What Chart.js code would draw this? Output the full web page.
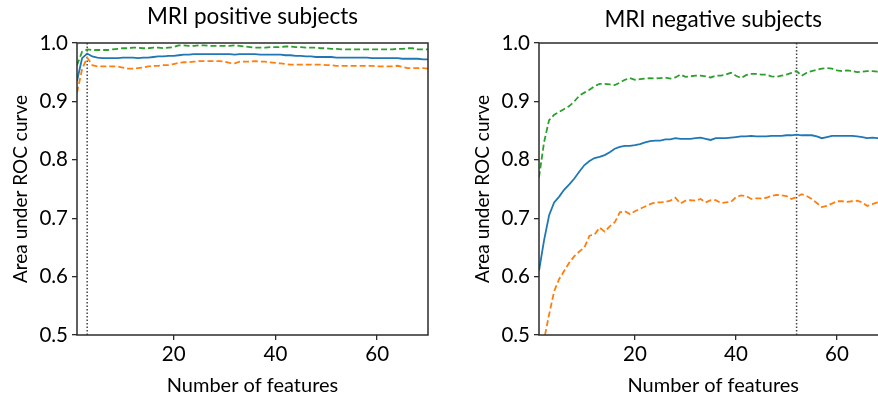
<!DOCTYPE html>
<html><head><meta charset="utf-8">
<script src="https://cdn.jsdelivr.net/npm/chart.js@4/dist/chart.umd.min.js"></script>
<style>
html,body{margin:0;padding:0;background:#fff;width:878px;height:398px;overflow:hidden;}
#wrap{position:relative;width:878px;height:398px;overflow:hidden;}
canvas{position:absolute;top:0;}
#c1{left:0;}
#c2{left:462px;}
</style></head>
<body><div id="wrap"><canvas id="c1" width="440" height="398"></canvas><canvas id="c2" width="438" height="398"></canvas></div>
<script>
const features = [1,2,3,4,5,6,7,8,9,10,11,12,13,14,15,16,17,18,19,20,21,22,23,24,25,26,27,28,29,30,31,32,33,34,35,36,37,38,39,40,41,42,43,44,45,46,47,48,49,50,51,52,53,54,55,56,57,58,59,60,61,62,63,64,65,66,67,68,69,70];
const xTicks = [20, 40, 60];
const yTicks = [0.5, 0.6, 0.7, 0.8, 0.9, 1.0];

const posMean = [0.935,0.974,0.982,0.977,0.975,0.974,0.974,0.974,0.974,0.975,0.975,0.975,0.974,0.975,0.975,0.976,0.977,0.977,0.978,0.978,0.979,0.980,0.980,0.981,0.981,0.981,0.981,0.981,0.981,0.981,0.981,0.980,0.981,0.981,0.981,0.981,0.980,0.980,0.980,0.980,0.980,0.979,0.979,0.978,0.978,0.977,0.977,0.976,0.976,0.976,0.976,0.975,0.975,0.975,0.975,0.975,0.975,0.975,0.974,0.974,0.974,0.974,0.974,0.974,0.973,0.973,0.973,0.973,0.972,0.972];
const posUpper = [0.962,0.985,0.989,0.988,0.988,0.988,0.988,0.989,0.990,0.991,0.991,0.992,0.992,0.991,0.991,0.992,0.992,0.991,0.992,0.993,0.996,0.996,0.995,0.995,0.996,0.996,0.995,0.995,0.995,0.995,0.995,0.996,0.995,0.994,0.993,0.992,0.992,0.992,0.993,0.993,0.993,0.994,0.994,0.993,0.993,0.992,0.992,0.992,0.991,0.991,0.990,0.990,0.989,0.989,0.989,0.989,0.989,0.989,0.989,0.989,0.989,0.989,0.989,0.990,0.990,0.991,0.991,0.989,0.989,0.989];
const posLower = [0.915,0.955,0.975,0.962,0.960,0.960,0.960,0.960,0.960,0.958,0.956,0.956,0.957,0.958,0.960,0.961,0.961,0.962,0.962,0.964,0.966,0.967,0.967,0.968,0.969,0.969,0.969,0.969,0.969,0.968,0.966,0.965,0.968,0.968,0.968,0.969,0.968,0.968,0.967,0.966,0.965,0.964,0.963,0.963,0.963,0.963,0.963,0.963,0.963,0.962,0.962,0.961,0.961,0.961,0.961,0.961,0.961,0.961,0.961,0.960,0.960,0.960,0.960,0.961,0.959,0.957,0.957,0.957,0.957,0.956];
const posBest = 3;

const negMean = [0.610,0.662,0.705,0.727,0.737,0.749,0.758,0.768,0.780,0.791,0.798,0.803,0.805,0.808,0.813,0.819,0.822,0.824,0.824,0.825,0.827,0.830,0.832,0.833,0.833,0.835,0.835,0.837,0.836,0.836,0.836,0.837,0.838,0.836,0.834,0.837,0.837,0.837,0.838,0.839,0.840,0.840,0.841,0.840,0.840,0.840,0.841,0.841,0.841,0.842,0.842,0.843,0.842,0.842,0.842,0.840,0.837,0.839,0.841,0.841,0.841,0.841,0.841,0.840,0.839,0.837,0.838,0.837,0.837,0.837];
const negUpper = [0.770,0.830,0.868,0.877,0.882,0.887,0.892,0.900,0.910,0.915,0.920,0.926,0.930,0.930,0.929,0.928,0.932,0.937,0.940,0.937,0.938,0.939,0.940,0.939,0.940,0.941,0.939,0.941,0.946,0.942,0.943,0.944,0.944,0.943,0.941,0.944,0.944,0.946,0.949,0.944,0.940,0.945,0.947,0.947,0.946,0.946,0.943,0.942,0.944,0.946,0.949,0.952,0.944,0.949,0.952,0.954,0.956,0.957,0.956,0.953,0.952,0.953,0.952,0.950,0.951,0.952,0.952,0.951,0.951,0.951];
const negLower = [0.455,0.492,0.535,0.575,0.596,0.610,0.624,0.635,0.643,0.650,0.670,0.672,0.684,0.677,0.686,0.693,0.710,0.712,0.707,0.712,0.716,0.720,0.724,0.727,0.727,0.728,0.730,0.735,0.725,0.730,0.731,0.730,0.733,0.727,0.731,0.731,0.726,0.727,0.728,0.736,0.739,0.738,0.733,0.734,0.734,0.735,0.738,0.740,0.739,0.738,0.733,0.736,0.741,0.738,0.733,0.726,0.719,0.721,0.725,0.729,0.729,0.728,0.729,0.730,0.727,0.721,0.724,0.727,0.727,0.727];
const negBest = 52;

const FONT = 'Lato, "Open Sans", sans-serif';
const frame = {
  id: 'frame',
  afterDatasetsDraw(chart) {
    const {ctx, chartArea: a} = chart;
    ctx.save();
    ctx.strokeStyle = '#2b2b2b';
    ctx.lineWidth = 1.5;
    ctx.strokeRect(a.left, a.top, a.right - a.left, a.bottom - a.top);
    ctx.restore();
  }
};

function pts(vals) { return features.map((x, i) => ({x: x, y: vals[i]})); }

function makeChart(id, title, mean, upper, lower, best, padRight, titlePad) {
  const tickFont = {family: FONT, size: 20.5};
  return new Chart(document.getElementById(id), {
    type: 'line',
    data: {datasets: [
      {data: pts(upper), borderColor: '#2ca02c', borderDash: [6, 3], borderWidth: 1.8, pointRadius: 0},
      {data: pts(lower), borderColor: '#ff7f0e', borderDash: [6, 3], borderWidth: 1.8, pointRadius: 0},
      {data: pts(mean), borderColor: '#1f77b4', borderWidth: 1.8, pointRadius: 0},
      {data: [{x: best, y: yTicks[0]}, {x: best, y: yTicks[yTicks.length - 1]}], borderColor: '#444', borderDash: [1.5, 2], borderWidth: 1.5, pointRadius: 0}
    ]},
    options: {
      responsive: false, animation: false,
      layout: {padding: {left: 0, right: padRight, top: 0, bottom: 0}},
      plugins: {
        legend: {display: false}, tooltip: {enabled: false},
        title: {display: true, text: title, fullSize: false, color: '#000', font: {family: FONT, size: 22.5, weight: 'normal'}, padding: titlePad}
      },
      scales: {
        x: {
          type: 'linear', min: 1, max: 70,
          afterBuildTicks: s => { s.ticks = xTicks.map(v => ({value: v})); },
          afterFit: s => { s.height = 63; },
          ticks: {font: tickFont, color: '#000', padding: 2, maxRotation: 0},
          grid: {drawOnChartArea: false, drawTicks: true, tickLength: 5, color: '#2b2b2b', lineWidth: 1.3},
          border: {display: false},
          title: {display: true, text: 'Number of features', color: '#000', font: {family: FONT, size: 20}, padding: {top: 0, bottom: 0}}
        },
        y: {
          min: 0.5, max: 1.0,
          afterBuildTicks: s => { s.ticks = yTicks.map(v => ({value: v})); },
          afterFit: s => { s.width = 77; },
          ticks: {font: tickFont, color: '#000', padding: 4, callback: v => v.toFixed(1)},
          grid: {drawOnChartArea: false, drawTicks: true, tickLength: 5, color: '#2b2b2b', lineWidth: 1.3},
          border: {display: false},
          title: {display: true, text: 'Area under ROC curve', color: '#000', font: {family: FONT, size: 19}, padding: {top: 9, bottom: 0}}
        }
      }
    },
    plugins: [frame]
  });
}

makeChart('c1', 'MRI positive subjects', posMean, posUpper, posLower, posBest, 12, {top: 3, bottom: 13});
makeChart('c2', 'MRI negative subjects', negMean, negUpper, negLower, negBest, 12.5, {top: 6, bottom: 10});
</script>
</body></html>
